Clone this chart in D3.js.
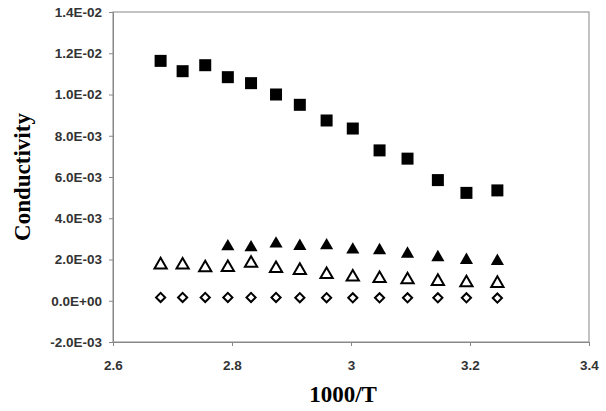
<!DOCTYPE html>
<html><head><meta charset="utf-8">
<script src="https://cdn.jsdelivr.net/npm/d3@7"></script>
<style>body{margin:0;background:#fff}</style></head>
<body><svg id="c" width="606" height="411"></svg>
<script>
const xVals=[2.680,2.717,2.755,2.793,2.832,2.874,2.914,2.959,3.003,3.048,3.095,3.146,3.194,3.246];
const squares=[0.01163,0.01113,0.01142,0.01084,0.01055,0.0100,0.0095,0.00874,0.00835,0.00729,0.00689,0.00585,0.00523,0.00535];
const filledTri=[null,null,null,0.00263,0.00258,0.00276,0.00265,0.00268,0.00247,0.00244,0.00227,0.00210,0.00197,0.00192];
const openTri=[0.00174,0.00173,0.00160,0.00161,0.00182,0.00156,0.00147,0.00127,0.00115,0.00108,0.00102,0.00094,0.00087,0.00084];
const diamonds=[0.00016,0.00016,0.00016,0.00016,0.00016,0.00016,0.00015,0.00015,0.00014,0.00014,0.00014,0.00014,0.00014,0.00013];
const xTicks=[2.6,2.8,3.0,3.2,3.4];
const yTicks=[-0.002,0,0.002,0.004,0.006,0.008,0.010,0.012,0.014];
const svg=d3.select("#c");
const x=d3.scaleLinear().domain([2.6,3.4]).range([113,589]);
const y=d3.scaleLinear().domain([-0.002,0.014]).range([342,12]);
svg.append("rect").attr("x",113).attr("y",12).attr("width",476).attr("height",330).attr("fill","none").attr("stroke","#888").attr("stroke-width",1);
const yfmt=v=>{if(Math.abs(v)<1e-12)return"0.0E+00";const e=Math.floor(Math.log10(Math.abs(v))+1e-9);const m=v/Math.pow(10,e);return m.toFixed(1)+"E-"+String(-e).padStart(2,"0");};
const ya=svg.append("g").attr("transform","translate(113,0)").call(d3.axisLeft(y).tickValues(yTicks).tickSize(4).tickFormat(yfmt));
const xa=svg.append("g").attr("transform","translate(0,342)").call(d3.axisBottom(x).tickValues(xTicks).tickSize(4).tickPadding(14).tickFormat(d=>d3.format("")(+d.toFixed(1))));
[ya,xa].forEach(a=>{a.select(".domain").attr("stroke","#888");a.selectAll("line").attr("stroke","#888");a.selectAll("text").attr("font-family","Liberation Sans, Arial").attr("font-weight","bold").attr("font-size",13.5).attr("fill","#333");});
ya.selectAll("text").attr("dx",-4);
svg.append("text").attr("x",x(3.0)-8).attr("y",402).attr("text-anchor","middle").attr("font-family","Liberation Serif").attr("font-weight","bold").attr("font-size",23).text("1000/T");
svg.append("text").attr("transform","translate(30,177) rotate(-90)").attr("text-anchor","middle").attr("font-family","Liberation Serif").attr("font-weight","bold").attr("font-size",23).text("Conductivity");
const pts=(arr)=>arr.map((v,i)=>({x:xVals[i],v})).filter(d=>d.v!==null);
svg.append("g").selectAll("rect").data(pts(squares)).join("rect").attr("x",d=>x(d.x)-6).attr("y",d=>y(d.v)-6).attr("width",12).attr("height",12).attr("fill","#000");
const tri=d3.symbol().type(d3.symbolTriangle).size(75);
svg.append("g").selectAll("path").data(pts(filledTri)).join("path").attr("d",tri).attr("transform",d=>`translate(${x(d.x)},${y(d.v)})`).attr("fill","#000");
svg.append("g").selectAll("path").data(pts(openTri)).join("path").attr("d",d3.symbol().type(d3.symbolTriangle).size(65)).attr("transform",d=>`translate(${x(d.x)},${y(d.v)})`).attr("fill","none").attr("stroke","#000").attr("stroke-width",2);
svg.append("g").selectAll("path").data(pts(diamonds)).join("path").attr("d",d3.symbol().type(d3.symbolSquare).size(42)).attr("transform",d=>`translate(${x(d.x)},${y(d.v)}) rotate(45)`).attr("fill","none").attr("stroke","#000").attr("stroke-width",2);
</script></body></html>
